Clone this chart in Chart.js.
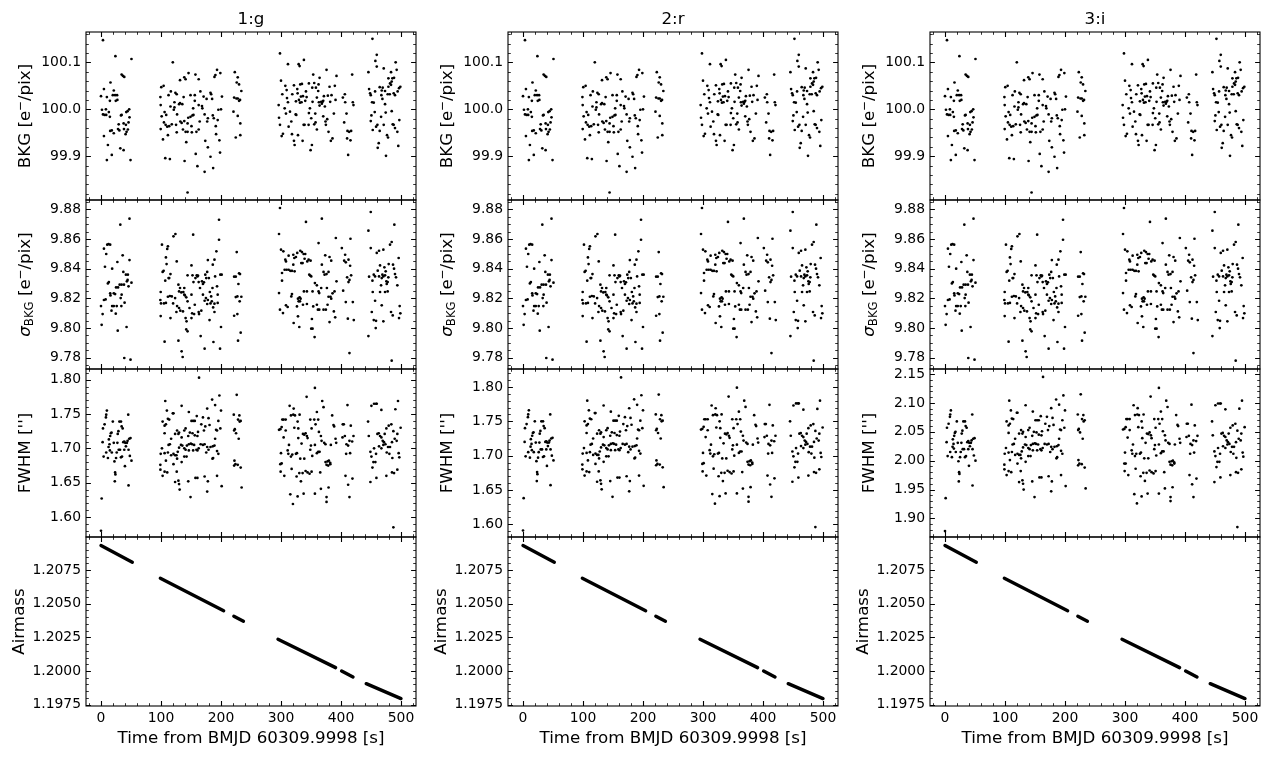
<!DOCTYPE html>
<html>
<head>
<meta charset="utf-8">
<script src="https://cdn.jsdelivr.net/npm/chart.js@4.4.0/dist/chart.umd.min.js"></script>
<style>
  html, body { margin: 0; padding: 0; background: #fff; }
  #fig { position: relative; width: 1270px; height: 758px; overflow: hidden; background: #fff; }
  #fig canvas { position: absolute; }
</style>
</head>
<body>
<div id="fig"></div>
<script>
// ---- data ----
const bandTitles = ['1:g', '2:r', '3:i'];

const xTicks = ['0', '100', '200', '300', '400', '500'];
const bkgTicks = ['99.9', '100.0', '100.1'];
const sigTicks = ['9.78', '9.80', '9.82', '9.84', '9.86', '9.88'];
const fwhmGTicks = ['1.60', '1.65', '1.70', '1.75', '1.80'];
const fwhmRTicks = ['1.60', '1.65', '1.70', '1.75', '1.80'];
const fwhmITicks = ['1.90', '1.95', '2.00', '2.05', '2.10', '2.15'];
const airTicks = ['1.1975', '1.2000', '1.2025', '1.2050', '1.2075'];

// background level [time s, e-/pix] (same in all bands)
const bkgPts = [
  [3.3,100.147],[24.0,100.113],[50.8,100.107],[34.4,100.074],[38.8,100.069],[36.6,100.071],[15.8,100.057],[4.9,100.043],[21.3,100.040],[0,100.028],
  [9.8,100.026],[19.7,100.030],[23.5,100.030],[26.8,100.030],[14.8,100.018],[24.6,100.018],[27.3,100.020],[1.6,99.999],[8.2,100.000],[3.3,99.989],
  [6.0,99.988],[8.7,99.988],[13.1,99.994],[14.8,99.984],[33.3,99.987],[34.4,99.988],[47.0,100.000],[44.3,99.996],[42.1,99.994],[47.5,99.983],
  [29.5,99.968],[37.7,99.970],[45.9,99.972],[41.5,99.967],[15.3,99.954],[18.0,99.955],[21.3,99.949],[28.4,99.958],[30.6,99.955],[38.3,99.958],
  [44.8,99.957],[42.6,99.952],[4.9,99.943],[41.0,99.947],[11.5,99.924],[32.2,99.917],[37.7,99.913],[18.0,99.903],[9.8,99.892],[49.2,99.892],
  [119.7,100.100],[100.5,100.047],[104.4,100.050],[131.7,100.062],[138.8,100.068],[141.0,100.064],[145.9,100.077],[157.4,100.074],[162.8,100.064],[189.1,100.069],
  [190.7,100.073],[193.4,100.084],[198.9,100.077],[99.0,100.026],[112.6,100.030],[116.4,100.038],[124.0,100.035],[126.2,100.032],[137.7,100.026],[149.2,100.030],
  [156.3,100.030],[165.6,100.038],[171.0,100.027],[176.0,100.022],[182.5,100.035],[183.6,100.032],[185.2,100.022],[201.6,100.027],[99.5,100.009],[106.0,99.994],
  [108.7,99.988],[115.8,100.006],[122.4,100.015],[130.1,100.011],[122.4,100.004],[121.3,99.999],[131.7,100.013],[135.5,100.011],[126.8,99.989],[145.4,99.982],
  [149.2,99.984],[152.5,99.987],[154.1,99.988],[156.3,100.018],[153.6,100.002],[162.8,100.009],[168.3,100.007],[168.9,100.002],[164.5,99.974],[172.7,99.989],
  [178.1,99.981],[186.3,99.987],[188.0,99.981],[195.6,99.999],[200.0,100.000],[101.1,99.985],[104.9,99.972],[107.7,99.967],[113.7,99.964],[110.4,99.963],
  [118.0,99.968],[125.1,99.967],[132.2,99.974],[134.4,99.971],[138.8,99.975],[144.3,99.970],[150.8,99.964],[126.2,99.951],[99.5,99.958],[103.3,99.936],
  [111.5,99.945],[136.6,99.957],[141.0,99.952],[144.3,99.952],[151.4,99.951],[159.0,99.952],[162.8,99.957],[177.0,99.974],[191.3,99.964],[194.5,99.977],
  [191.8,99.947],[197.3,99.934],[173.8,99.933],[142.1,99.930],[157.9,99.905],[178.1,99.919],[182.5,99.899],[160.7,99.879],[172.7,99.867],[186.9,99.875],
  [198.4,99.908],[107.1,99.896],[114.8,99.894],[139.3,99.890],[144.3,99.823],
  [223.0,100.079],[227.9,100.068],[226.2,100.057],[233.9,100.039],[230.1,100.053],[221.9,100.025],[225.7,100.023],[227.9,100.023],[230.1,100.018],[231.7,100.020],
  [220.8,99.995],[227.9,99.986],[232.2,99.970],[224.6,99.940],[232.2,99.945],
  [298.3,100.119],[311.6,100.096],[329.4,100.096],[331.0,100.092],[338.2,100.105],[296.1,100.009],[296.7,99.982],[298.3,99.967],[300.0,100.061],[301.1,99.943],
  [303.3,99.948],[302.2,100.032],[306.1,100.002],[307.2,100.050],[309.4,100.041],[310.0,100.024],[308.3,99.991],[311.6,100.015],[312.7,99.963],[315.0,99.995],
  [317.2,99.974],[318.3,99.947],[318.8,100.032],[321.6,100.051],[321.6,99.933],[322.7,99.924],[324.4,99.989],[324.9,100.017],[325.5,99.988],[327.1,100.043],
  [328.3,99.945],[327.7,100.034],[329.9,100.020],[331.6,100.014],[332.1,100.053],[333.2,100.027],[334.3,100.015],[334.9,100.054],[336.0,99.933],[336.6,100.028],
  [337.7,99.967],[339.3,99.967],[340.4,100.018],[341.6,100.038],[342.7,100.026],[346.0,99.967],[346.5,99.992],[346.5,100.055],[348.2,100.002],[349.3,99.913],
  [350.4,99.981],[351.5,99.924],[352.1,100.046],[352.6,100.016],[353.7,100.074],[355.4,100.056],[355.4,99.968],[357.1,99.991],[357.6,99.972],[358.2,100.046],
  [359.8,100.025],[359.8,99.957],[362.0,100.039],[362.6,100.053],[363.2,100.015],[364.3,100.008],[364.3,100.067],[367.0,100.016],[368.1,100.012],[369.3,100.016],
  [370.4,100.018],[370.4,99.985],[371.5,100.028],[373.1,100.006],[374.2,99.974],[374.8,99.967],[375.9,100.084],[377.0,99.979],[378.1,100.029],[379.2,99.952],
  [380.9,100.048],[382.0,100.016],[383.1,99.933],[384.2,100.030],[385.8,99.938],[388.1,99.991],[389.7,100.050],[390.9,100.020],[392.5,100.071],
  [403.1,100.025],[406.4,100.032],[407.0,100.015],[409.2,99.991],[410.8,99.954],[411.9,99.903],[413.6,99.952],[415.8,99.934],[416.9,99.954],[418.6,100.074],
  [419.7,100.015],[420.8,100.009],[410.2,99.938],[405.3,99.972],
  [452.4,100.150],[459.6,100.116],[457.3,100.103],[459.6,100.091],[445.7,100.079],[471.2,100.087],[491.1,100.100],[492.8,100.084],[483.4,100.079],[485.6,100.066],
  [488.4,100.067],[446.8,100.043],[448.5,100.034],[449.6,100.030],[451.8,100.015],[454.6,100.014],[456.2,99.994],[450.7,99.987],[449.6,99.975],[452.9,99.956],
  [460.7,99.967],[456.8,100.038],[464.5,100.047],[467.9,100.040],[469.5,100.046],[473.4,100.039],[467.3,100.030],[469.0,100.022],[473.4,100.011],[474.5,99.993],
  [477.8,100.032],[479.0,100.066],[481.2,100.032],[483.4,100.052],[484.5,100.059],[487.8,100.034],[490.0,100.030],[494.4,100.038],[498.9,100.048],[496.7,100.045],
  [479.0,100.048],[481.7,100.055],[484.5,99.996],[487.8,99.967],[490.0,99.960],[493.9,99.952],[497.2,99.977],[486.2,99.968],[476.7,99.945],[478.4,99.940],
  [471.2,99.967],[464.5,99.954],[462.9,99.928],[461.2,99.918],[475.0,99.901],[495.5,99.922],[466.8,99.984],[458.5,99.963]
];

// background rms [time s, e-/pix] (same in all bands)
const sigPts = [
  [47.5,9.8737],[32.2,9.8697],[4.9,9.8535],[10.4,9.8562],[12.6,9.8566],[15.3,9.8562],[8.7,9.8499],[36.1,9.8490],[27.3,9.8445],[47.5,9.8458],
  [6.6,9.8413],[18.6,9.8400],[37.2,9.8378],[41.5,9.8360],[44.8,9.8360],[13.1,9.8310],[11.5,9.8301],[44.3,9.8324],[50.8,9.8306],[31.1,9.8292],
  [34.4,9.8292],[28.4,9.8274],[25.1,9.8274],[38.3,9.8292],[43.2,9.8315],[45.9,9.8281],[15.3,9.8234],[21.3,9.8234],[23.5,9.8229],[15.8,9.8220],
  [34.4,9.8225],[7.7,9.8193],[4.9,9.8189],[32.8,9.8202],[39.3,9.8171],[0.0,9.8148],[18.6,9.8148],[21.3,9.8148],[26.2,9.8148],[33.9,9.8148],
  [17.5,9.8117],[2.7,9.8094],[24.6,9.8097],[1.1,9.8022],[42.6,9.8007],[27.9,9.7982],[38.8,9.7798],[49.2,9.7787],
  [101.6,9.8562],[104.4,9.8386],[102.7,9.8378],[107.1,9.8319],[108.2,9.8476],[109.3,9.8431],[112.6,9.8337],[113.7,9.8337],[115.8,9.8364],[110.4,9.8533],
  [111.5,9.8551],[120.8,9.8618],[124.0,9.8634],[126.2,9.8449],[129.0,9.8292],[131.7,9.8270],[130.1,9.8247],[133.9,9.8240],[137.2,9.8243],[138.8,9.8270],
  [139.9,9.8220],[142.1,9.8207],[144.3,9.8355],[150.8,9.8422],[152.5,9.8355],[154.1,9.8310],[157.4,9.8337],[159.6,9.8355],[160.7,9.8348],[161.7,9.8353],
  [162.8,9.8310],[153.6,9.8629],[165.0,9.8270],[168.3,9.8315],[169.9,9.8297],[171.6,9.8308],[173.8,9.8360],[177.0,9.8378],[178.1,9.8458],[175.4,9.8337],
  [179.8,9.8337],[183.6,9.8213],[185.8,9.8270],[186.3,9.8427],[189.1,9.8461],[190.2,9.8348],[192.3,9.8517],[193.4,9.8281],[194.5,9.8225],[196.7,9.8730],
  [196.7,9.8595],[198.9,9.8360],[201.1,9.8360],[99.5,9.8243],[98.9,9.8189],[100.0,9.8166],[104.9,9.8166],[108.2,9.8169],[111.5,9.8211],[114.8,9.8216],
  [118.0,9.8213],[120.2,9.8166],[123.5,9.8202],[126.8,9.8148],[130.1,9.8135],[132.2,9.8117],[136.6,9.8112],[138.8,9.8225],[141.0,9.8067],[142.6,9.8045],
  [144.3,9.8180],[147.5,9.8135],[150.8,9.8225],[151.9,9.8099],[156.3,9.8157],[162.8,9.8108],[163.4,9.8094],[167.2,9.8117],[169.9,9.8225],[172.7,9.8184],
  [174.9,9.8202],[177.0,9.8162],[178.1,9.8189],[181.4,9.8243],[182.5,9.8166],[184.7,9.8180],[186.9,9.8139],[189.1,9.8164],[194.5,9.8169],[99.5,9.8081],
  [115.8,9.8067],[125.7,9.8108],[142.1,9.7991],[144.3,9.7978],[155.2,9.8094],[166.1,9.7946],[180.9,9.8054],[200.0,9.8007],[106.0,9.7908],[129.0,9.7915],
  [134.4,9.7843],[136.1,9.7805],[172.7,9.7861],[187.4,9.7906],[198.4,9.7861],[189.1,9.8108],[150.8,9.8067],
  [226.2,9.8512],[221.9,9.8346],[224.6,9.8346],[230.1,9.8369],[231.7,9.8364],[229.0,9.8297],[227.3,9.8213],[224.6,9.8209],[233.9,9.8211],[231.1,9.8180],
  [221.9,9.8083],[227.3,9.8094],[232.8,9.7969],[228.4,9.7915],
  [298.3,9.8809],[296.7,9.8634],[300.0,9.8528],[303.9,9.8517],[307.2,9.8461],[308.3,9.8449],[312.7,9.8488],[320.5,9.8494],[322.2,9.8472],[324.9,9.8479],
  [327.1,9.8506],[332.1,9.8521],[334.9,9.8512],[337.7,9.8499],[340.4,9.8499],[333.8,9.8438],[336.0,9.8438],[339.3,9.8467],[343.8,9.8449],[346.0,9.8461],
  [349.3,9.8454],[341.6,9.8715],[368.1,9.8737],[362.6,9.8573],[373.7,9.8490],[380.9,9.8479],[391.4,9.8607],[383.7,9.8454],[320.5,9.8427],[301.7,9.8371],
  [306.1,9.8393],[309.4,9.8393],[312.7,9.8393],[315.5,9.8386],[318.3,9.8386],[322.7,9.8382],[301.7,9.8319],[317.2,9.8213],[318.3,9.8229],[331.0,9.8207],
  [332.7,9.8198],[338.2,9.8247],[343.2,9.8247],[347.1,9.8360],[348.8,9.8353],[350.4,9.8348],[356.5,9.8303],[359.8,9.8288],[362.6,9.8247],[363.7,9.8236],
  [367.0,9.8270],[370.9,9.8378],[372.6,9.8360],[375.9,9.8364],[379.2,9.8378],[376.5,9.8270],[379.2,9.8211],[382.5,9.8211],[385.9,9.8234],[389.2,9.8247],
  [392.5,9.8315],[296.7,9.8236],[298.3,9.8124],[303.3,9.8101],[308.3,9.8153],[311.1,9.8142],[326.6,9.8146],[328.3,9.8198],[329.4,9.8180],[331.6,9.8180],
  [336.6,9.8157],[343.2,9.8162],[352.6,9.8247],[353.7,9.8146],[359.8,9.8157],[361.5,9.8124],[370.9,9.8124],[374.8,9.8124],[377.6,9.8157],[383.7,9.8198],
  [388.1,9.8112],[390.3,9.8072],[380.9,9.8040],[321.1,9.8034],[330.5,9.8007],[350.4,9.7996],[352.6,9.7996],[356.0,9.7939],[351.5,9.8061],[328.3,9.8079],
  [363.7,9.8124],[368.1,9.8427],
  [401.4,9.8539],[406.9,9.8494],[405.3,9.8454],[408.0,9.8443],[412.5,9.8461],[415.2,9.8420],[416.9,9.8355],[410.2,9.8342],[412.5,9.8310],[414.1,9.8324],
  [403.6,9.8252],[408.0,9.8175],[419.7,9.8175],[411.4,9.8063],[421.3,9.8054],[414.1,9.7831],[415.8,9.8602],
  [449.6,9.8782],[445.7,9.8656],[488.9,9.8697],[449.6,9.8539],[459.6,9.8506],[463.4,9.8521],[470.6,9.8528],[481.7,9.8562],[484.5,9.8580],[496.1,9.8472],
  [465.1,9.8422],[461.2,9.8387],[454.6,9.8360],[452.4,9.8319],[456.8,9.8348],[463.4,9.8348],[467.9,9.8337],[469.0,9.8360],[470.6,9.8348],[473.4,9.8355],
  [475.6,9.8315],[477.8,9.8310],[479.5,9.8431],[486.7,9.8427],[488.4,9.8400],[490.0,9.8364],[491.7,9.8342],[493.9,9.8288],[478.9,9.8342],[474.5,9.8382],
  [476.2,9.8297],[477.8,9.8247],[473.4,9.8243],[465.1,9.8243],[452.9,9.8243],[456.8,9.8184],[451.3,9.8108],[454.6,9.8054],[458.4,9.8049],[457.9,9.8000],
  [467.9,9.8153],[470.6,9.8045],[483.4,9.8108],[486.2,9.8085],[497.8,9.8148],[498.9,9.8099],[496.7,9.8067],[445.7,9.7946],[484.5,9.7780],[466.8,9.8288],
  [472.3,9.8409],[446.8,9.8346]
];

// FWHM [time s, arcsec], g band
const fwhmG = [
  [0.0,1.580],[1.1,1.627],[2.7,1.709],[3.3,1.729],[4.4,1.688],[6.0,1.735],[8.2,1.745],[8.7,1.749],[9.8,1.755],[8.7,1.694],
  [11.5,1.686],[12.6,1.702],[14.2,1.706],[16.4,1.722],[17.5,1.723],[18.0,1.694],[15.3,1.718],[19.7,1.739],[21.3,1.708],[22.4,1.681],
  [23.5,1.665],[24.0,1.662],[23.0,1.652],[25.1,1.686],[27.3,1.708],[27.9,1.721],[29.0,1.725],[30.6,1.739],[29.5,1.698],[31.7,1.698],
  [33.3,1.739],[33.3,1.687],[34.4,1.732],[36.1,1.729],[35.0,1.688],[37.2,1.709],[38.8,1.710],[39.9,1.674],[40.4,1.708],[41.5,1.703],
  [43.2,1.708],[44.3,1.711],[45.4,1.749],[45.9,1.698],[47.0,1.714],[48.1,1.689],[49.2,1.715],[50.8,1.682],[45.9,1.646],[38.8,1.698],
  [26.2,1.694],[13.1,1.713],[14.8,1.697],
  [107.1,1.769],[109.8,1.755],[111.5,1.743],[113.7,1.742],[102.7,1.739],[106.0,1.733],[119.7,1.751],[120.8,1.751],[134.4,1.762],[146.4,1.753],
  [156.3,1.740],[153.6,1.740],[150.8,1.740],[159.6,1.747],[167.2,1.735],[169.9,1.745],[177.0,1.758],[185.2,1.771],[190.2,1.763],[197.3,1.777],
  [200.0,1.755],[195.6,1.740],[198.9,1.729],[191.8,1.727],[193.4,1.726],[190.2,1.714],[179.2,1.744],[180.9,1.734],[173.8,1.732],[171.6,1.726],
  [161.7,1.724],[160.7,1.718],[156.3,1.719],[152.5,1.722],[148.1,1.723],[145.4,1.718],[141.0,1.729],[138.8,1.726],[134.4,1.716],[130.1,1.723],
  [129.0,1.721],[126.8,1.726],[123.5,1.721],[116.9,1.714],[114.8,1.706],[112.6,1.705],[108.2,1.735],[106.0,1.722],[101.6,1.700],[99.5,1.692],
  [106.0,1.693],[111.5,1.694],[116.9,1.690],[120.8,1.692],[123.5,1.690],[125.7,1.690],[127.9,1.695],[130.1,1.701],[133.3,1.705],[135.5,1.704],
  [138.8,1.700],[141.0,1.698],[143.2,1.704],[146.4,1.706],[149.7,1.707],[151.9,1.706],[155.2,1.705],[159.0,1.698],[160.7,1.697],[162.8,1.700],
  [166.1,1.706],[169.9,1.705],[172.7,1.706],[177.0,1.702],[179.2,1.698],[182.5,1.702],[186.3,1.703],[189.1,1.704],[193.4,1.696],[195.6,1.692],
  [185.8,1.685],[186.9,1.686],[175.4,1.694],[153.6,1.697],[146.4,1.697],[142.6,1.688],[138.8,1.688],[134.4,1.680],[126.8,1.685],[108.2,1.682],
  [102.7,1.660],[98.9,1.676],[99.0,1.669],[106.0,1.666],[110.4,1.665],[123.5,1.651],[126.2,1.666],[129.0,1.653],[130.1,1.648],[131.1,1.640],
  [145.4,1.652],[157.4,1.657],[160.7,1.657],[172.7,1.659],[178.1,1.652],[193.4,1.660],[201.1,1.645],[177.0,1.637],[149.2,1.629],[120.8,1.677],
  [163.4,1.803],
  [221.3,1.749],[226.2,1.778],[230.6,1.748],[228.4,1.742],[232.8,1.740],[231.1,1.739],[221.9,1.726],[223.0,1.728],[225.1,1.722],[229.5,1.714],
  [222.4,1.682],[224.0,1.677],[227.9,1.676],[232.8,1.672],[221.9,1.675],[234.4,1.643],
  [296.7,1.727],[298.9,1.728],[301.1,1.731],[302.2,1.742],[304.4,1.742],[307.8,1.742],[307.8,1.726],[304.4,1.716],[300.0,1.693],[298.9,1.677],
  [301.1,1.678],[299.4,1.666],[305.5,1.660],[314.4,1.762],[316.6,1.748],[321.1,1.758],[320.5,1.749],[323.3,1.748],[327.7,1.739],[331.0,1.749],
  [322.2,1.730],[328.8,1.729],[313.3,1.705],[311.1,1.697],[312.2,1.692],[316.6,1.688],[318.8,1.691],[324.9,1.692],[326.6,1.693],[332.1,1.685],
  [328.8,1.715],[334.3,1.707],[336.6,1.721],[338.8,1.720],[341.0,1.722],[343.2,1.718],[344.3,1.715],[336.0,1.664],[341.0,1.667],[344.3,1.665],
  [347.6,1.663],[351.0,1.666],[317.7,1.670],[326.0,1.659],[330.5,1.664],[333.2,1.652],[342.7,1.775],[348.8,1.742],[351.0,1.729],[349.9,1.704],
  [352.1,1.689],[355.4,1.742],[356.5,1.788],[357.6,1.735],[359.8,1.753],[362.0,1.742],[363.2,1.724],[366.5,1.718],[367.6,1.711],[368.7,1.769],
  [370.9,1.760],[372.0,1.708],[374.2,1.680],[375.9,1.676],[377.6,1.681],[378.7,1.675],[379.8,1.682],[382.0,1.679],[383.1,1.705],[385.3,1.748],
  [387.5,1.734],[388.6,1.732],[390.9,1.714],[392.0,1.708],[382.2,1.677],[374.2,1.706],[364.3,1.695],[359.8,1.693],[365.4,1.665],[362.0,1.695],
  [356.5,1.705],[338.8,1.685],[315.5,1.633],[319.9,1.619],[327.7,1.630],[337.7,1.634],[356.5,1.634],[366.5,1.641],[375.9,1.629],[375.9,1.622],
  [379.3,1.643],[348.8,1.698],
  [404.7,1.735],[402.5,1.716],[406.4,1.718],[410.8,1.763],[409.1,1.706],[411.9,1.704],[414.1,1.711],[416.3,1.733],[418.6,1.710],[420.8,1.718],
  [415.2,1.693],[408.6,1.692],[407.5,1.660],[411.9,1.647],[414.1,1.629],[419.1,1.656],[403.0,1.735],
  [445.1,1.739],[450.7,1.762],[455.1,1.765],[458.4,1.765],[459.6,1.765],[467.3,1.756],[490.6,1.757],[495.0,1.769],[483.9,1.735],[479.5,1.733],
  [475.6,1.729],[472.8,1.721],[460.7,1.721],[462.9,1.722],[465.1,1.718],[467.3,1.716],[469.5,1.711],[471.7,1.709],[474.0,1.706],[470.6,1.705],
  [463.4,1.703],[455.1,1.700],[449.0,1.695],[446.3,1.718],[478.4,1.702],[481.7,1.702],[485.0,1.709],[487.3,1.725],[489.5,1.714],[492.8,1.711],
  [493.9,1.721],[499.4,1.730],[496.1,1.693],[497.2,1.687],[485.6,1.686],[476.2,1.694],[450.7,1.688],[454.0,1.680],[457.3,1.680],[452.4,1.672],
  [459.0,1.657],[449.0,1.651],[475.6,1.660],[485.0,1.665],[488.4,1.664],[493.9,1.669],[487.3,1.585],[480.6,1.692],[467.3,1.700],[458.4,1.692]
];

// FWHM [time s, arcsec], r band
const fwhmR = [
  [0.0,1.591],[1.1,1.638],[2.7,1.720],[3.3,1.740],[4.4,1.699],[6.0,1.746],[8.2,1.756],[8.7,1.760],[9.8,1.766],[8.7,1.705],
  [11.5,1.697],[12.6,1.713],[14.2,1.717],[16.4,1.733],[17.5,1.734],[18.0,1.705],[15.3,1.729],[19.7,1.750],[21.3,1.719],[22.4,1.692],
  [23.5,1.676],[24.0,1.673],[23.0,1.663],[25.1,1.697],[27.3,1.719],[27.9,1.732],[29.0,1.736],[30.6,1.750],[29.5,1.709],[31.7,1.709],
  [33.3,1.750],[33.3,1.698],[34.4,1.743],[36.1,1.740],[35.0,1.699],[37.2,1.720],[38.8,1.721],[39.9,1.685],[40.4,1.719],[41.5,1.714],
  [43.2,1.719],[44.3,1.722],[45.4,1.760],[45.9,1.709],[47.0,1.725],[48.1,1.700],[49.2,1.726],[50.8,1.693],[45.9,1.657],[38.8,1.709],
  [26.2,1.705],[13.1,1.724],[14.8,1.708],
  [107.1,1.780],[109.8,1.766],[111.5,1.754],[113.7,1.753],[102.7,1.750],[106.0,1.744],[119.7,1.762],[120.8,1.762],[134.4,1.773],[146.4,1.764],
  [156.3,1.751],[153.6,1.751],[150.8,1.751],[159.6,1.758],[167.2,1.746],[169.9,1.756],[177.0,1.769],[185.2,1.782],[190.2,1.774],[197.3,1.788],
  [200.0,1.766],[195.6,1.751],[198.9,1.740],[191.8,1.738],[193.4,1.737],[190.2,1.725],[179.2,1.755],[180.9,1.745],[173.8,1.743],[171.6,1.737],
  [161.7,1.735],[160.7,1.729],[156.3,1.730],[152.5,1.733],[148.1,1.734],[145.4,1.729],[141.0,1.740],[138.8,1.737],[134.4,1.727],[130.1,1.734],
  [129.0,1.732],[126.8,1.737],[123.5,1.732],[116.9,1.725],[114.8,1.717],[112.6,1.716],[108.2,1.746],[106.0,1.733],[101.6,1.711],[99.5,1.703],
  [106.0,1.704],[111.5,1.705],[116.9,1.701],[120.8,1.703],[123.5,1.701],[125.7,1.701],[127.9,1.706],[130.1,1.712],[133.3,1.716],[135.5,1.715],
  [138.8,1.711],[141.0,1.709],[143.2,1.715],[146.4,1.717],[149.7,1.718],[151.9,1.717],[155.2,1.716],[159.0,1.709],[160.7,1.708],[162.8,1.711],
  [166.1,1.717],[169.9,1.716],[172.7,1.717],[177.0,1.713],[179.2,1.709],[182.5,1.713],[186.3,1.714],[189.1,1.715],[193.4,1.707],[195.6,1.703],
  [185.8,1.696],[186.9,1.697],[175.4,1.705],[153.6,1.708],[146.4,1.708],[142.6,1.699],[138.8,1.699],[134.4,1.691],[126.8,1.696],[108.2,1.693],
  [102.7,1.671],[98.9,1.687],[99.0,1.680],[106.0,1.677],[110.4,1.676],[123.5,1.662],[126.2,1.677],[129.0,1.664],[130.1,1.659],[131.1,1.651],
  [145.4,1.663],[157.4,1.668],[160.7,1.668],[172.7,1.670],[178.1,1.663],[193.4,1.671],[201.1,1.656],[177.0,1.648],[149.2,1.640],[120.8,1.688],
  [163.4,1.814],
  [221.3,1.760],[226.2,1.789],[230.6,1.759],[228.4,1.753],[232.8,1.751],[231.1,1.750],[221.9,1.737],[223.0,1.739],[225.1,1.733],[229.5,1.725],
  [222.4,1.693],[224.0,1.688],[227.9,1.687],[232.8,1.683],[221.9,1.686],[234.4,1.654],
  [296.7,1.738],[298.9,1.739],[301.1,1.742],[302.2,1.753],[304.4,1.753],[307.8,1.753],[307.8,1.737],[304.4,1.727],[300.0,1.704],[298.9,1.688],
  [301.1,1.689],[299.4,1.677],[305.5,1.671],[314.4,1.773],[316.6,1.759],[321.1,1.769],[320.5,1.760],[323.3,1.759],[327.7,1.750],[331.0,1.760],
  [322.2,1.741],[328.8,1.740],[313.3,1.716],[311.1,1.708],[312.2,1.703],[316.6,1.699],[318.8,1.702],[324.9,1.703],[326.6,1.704],[332.1,1.696],
  [328.8,1.726],[334.3,1.718],[336.6,1.732],[338.8,1.731],[341.0,1.733],[343.2,1.729],[344.3,1.726],[336.0,1.675],[341.0,1.678],[344.3,1.676],
  [347.6,1.674],[351.0,1.677],[317.7,1.681],[326.0,1.670],[330.5,1.675],[333.2,1.663],[342.7,1.786],[348.8,1.753],[351.0,1.740],[349.9,1.715],
  [352.1,1.700],[355.4,1.753],[356.5,1.799],[357.6,1.746],[359.8,1.764],[362.0,1.753],[363.2,1.735],[366.5,1.729],[367.6,1.722],[368.7,1.780],
  [370.9,1.771],[372.0,1.719],[374.2,1.691],[375.9,1.687],[377.6,1.692],[378.7,1.686],[379.8,1.693],[382.0,1.690],[383.1,1.716],[385.3,1.759],
  [387.5,1.745],[388.6,1.743],[390.9,1.725],[392.0,1.719],[382.2,1.688],[374.2,1.717],[364.3,1.706],[359.8,1.704],[365.4,1.676],[362.0,1.706],
  [356.5,1.716],[338.8,1.696],[315.5,1.644],[319.9,1.630],[327.7,1.641],[337.7,1.645],[356.5,1.645],[366.5,1.652],[375.9,1.640],[375.9,1.633],
  [379.3,1.654],[348.8,1.709],
  [404.7,1.746],[402.5,1.727],[406.4,1.729],[410.8,1.774],[409.1,1.717],[411.9,1.715],[414.1,1.722],[416.3,1.744],[418.6,1.721],[420.8,1.729],
  [415.2,1.704],[408.6,1.703],[407.5,1.671],[411.9,1.658],[414.1,1.640],[419.1,1.667],[403.0,1.746],
  [445.1,1.750],[450.7,1.773],[455.1,1.776],[458.4,1.776],[459.6,1.776],[467.3,1.767],[490.6,1.768],[495.0,1.780],[483.9,1.746],[479.5,1.744],
  [475.6,1.740],[472.8,1.732],[460.7,1.732],[462.9,1.733],[465.1,1.729],[467.3,1.727],[469.5,1.722],[471.7,1.720],[474.0,1.717],[470.6,1.716],
  [463.4,1.714],[455.1,1.711],[449.0,1.706],[446.3,1.729],[478.4,1.713],[481.7,1.713],[485.0,1.720],[487.3,1.736],[489.5,1.725],[492.8,1.722],
  [493.9,1.732],[499.4,1.741],[496.1,1.704],[497.2,1.698],[485.6,1.697],[476.2,1.705],[450.7,1.699],[454.0,1.691],[457.3,1.691],[452.4,1.683],
  [459.0,1.668],[449.0,1.662],[475.6,1.671],[485.0,1.676],[488.4,1.675],[493.9,1.680],[487.3,1.596],[480.6,1.703],[467.3,1.711],[458.4,1.703]
];

// FWHM [time s, arcsec], i band
const fwhmI = [
  [0.0,1.878],[1.1,1.935],[2.7,2.032],[3.3,2.057],[4.4,2.008],[6.0,2.064],[8.2,2.076],[8.7,2.080],[9.8,2.087],[8.7,2.015],
  [11.5,2.006],[12.6,2.024],[14.2,2.029],[16.4,2.048],[17.5,2.050],[18.0,2.015],[15.3,2.043],[19.7,2.068],[21.3,2.031],[22.4,1.999],
  [23.5,1.980],[24.0,1.977],[23.0,1.964],[25.1,2.006],[27.3,2.031],[27.9,2.047],[29.0,2.052],[30.6,2.068],[29.5,2.020],[31.7,2.020],
  [33.3,2.068],[33.3,2.006],[34.4,2.060],[36.1,2.057],[35.0,2.008],[37.2,2.032],[38.8,2.034],[39.9,1.991],[40.4,2.031],[41.5,2.025],
  [43.2,2.031],[44.3,2.035],[45.4,2.080],[45.9,2.020],[47.0,2.038],[48.1,2.009],[49.2,2.039],[50.8,2.000],[45.9,1.957],[38.8,2.020],
  [26.2,2.015],[13.1,2.037],[14.8,2.021],
  [107.1,2.104],[109.8,2.087],[111.5,2.073],[113.7,2.072],[102.7,2.068],[106.0,2.061],[119.7,2.083],[120.8,2.083],[134.4,2.096],[146.4,2.085],
  [156.3,2.070],[153.6,2.070],[150.8,2.070],[159.6,2.077],[167.2,2.064],[169.9,2.076],[177.0,2.091],[185.2,2.106],[190.2,2.097],[197.3,2.113],
  [200.0,2.087],[195.6,2.070],[198.9,2.057],[191.8,2.054],[193.4,2.053],[190.2,2.038],[179.2,2.074],[180.9,2.062],[173.8,2.060],[171.6,2.053],
  [161.7,2.051],[160.7,2.044],[156.3,2.045],[152.5,2.049],[148.1,2.050],[145.4,2.043],[141.0,2.057],[138.8,2.053],[134.4,2.041],[130.1,2.050],
  [129.0,2.047],[126.8,2.053],[123.5,2.047],[116.9,2.038],[114.8,2.029],[112.6,2.028],[108.2,2.064],[106.0,2.048],[101.6,2.022],[99.5,2.012],
  [106.0,2.014],[111.5,2.015],[116.9,2.010],[120.8,2.012],[123.5,2.010],[125.7,2.010],[127.9,2.016],[130.1,2.023],[133.3,2.028],[135.5,2.027],
  [138.8,2.022],[141.0,2.020],[143.2,2.027],[146.4,2.029],[149.7,2.030],[151.9,2.029],[155.2,2.028],[159.0,2.020],[160.7,2.018],[162.8,2.022],
  [166.1,2.029],[169.9,2.028],[172.7,2.029],[177.0,2.024],[179.2,2.020],[182.5,2.024],[186.3,2.025],[189.1,2.027],[193.4,2.017],[195.6,2.012],
  [185.8,2.004],[186.9,2.006],[175.4,2.015],[153.6,2.018],[146.4,2.018],[142.6,2.008],[138.8,2.008],[134.4,1.998],[126.8,2.004],[108.2,2.001],
  [102.7,1.975],[98.9,1.993],[99.0,1.985],[106.0,1.982],[110.4,1.980],[123.5,1.963],[126.2,1.982],[129.0,1.966],[130.1,1.960],[131.1,1.950],
  [145.4,1.964],[157.4,1.971],[160.7,1.971],[172.7,1.973],[178.1,1.964],[193.4,1.975],[201.1,1.956],[177.0,1.947],[149.2,1.937],[120.8,1.995],
  [163.4,2.145],
  [221.3,2.080],[226.2,2.115],[230.6,2.079],[228.4,2.072],[232.8,2.070],[231.1,2.068],[221.9,2.053],[223.0,2.055],[225.1,2.049],[229.5,2.038],
  [222.4,2.001],[224.0,1.995],[227.9,1.994],[232.8,1.988],[221.9,1.992],[234.4,1.952],
  [296.7,2.054],[298.9,2.055],[301.1,2.058],[302.2,2.072],[304.4,2.072],[307.8,2.072],[307.8,2.053],[304.4,2.040],[300.0,2.014],[298.9,1.995],
  [301.1,1.995],[299.4,1.982],[305.5,1.975],[314.4,2.096],[316.6,2.079],[321.1,2.091],[320.5,2.080],[323.3,2.079],[327.7,2.068],[331.0,2.080],
  [322.2,2.058],[328.8,2.057],[313.3,2.028],[311.1,2.018],[312.2,2.012],[316.6,2.008],[318.8,2.012],[324.9,2.012],[326.6,2.014],[332.1,2.004],
  [328.8,2.039],[334.3,2.031],[336.6,2.047],[338.8,2.046],[341.0,2.049],[343.2,2.044],[344.3,2.039],[336.0,1.979],[341.0,1.983],[344.3,1.980],
  [347.6,1.978],[351.0,1.982],[317.7,1.986],[326.0,1.973],[330.5,1.979],[333.2,1.965],[342.7,2.111],[348.8,2.072],[351.0,2.057],[349.9,2.027],
  [352.1,2.009],[355.4,2.072],[356.5,2.126],[357.6,2.064],[359.8,2.085],[362.0,2.072],[363.2,2.051],[366.5,2.044],[367.6,2.035],[368.7,2.104],
  [370.9,2.093],[372.0,2.031],[374.2,1.998],[375.9,1.993],[377.6,1.999],[378.7,1.992],[379.8,2.000],[382.0,1.997],[383.1,2.028],[385.3,2.079],
  [387.5,2.062],[388.6,2.060],[390.9,2.038],[392.0,2.031],[382.2,1.995],[374.2,2.029],[364.3,2.016],[359.8,2.013],[365.4,1.980],[362.0,2.016],
  [356.5,2.028],[338.8,2.004],[315.5,1.942],[319.9,1.926],[327.7,1.938],[337.7,1.943],[356.5,1.943],[366.5,1.952],[375.9,1.937],[375.9,1.930],
  [379.3,1.954],[348.8,2.020],
  [404.7,2.064],[402.5,2.041],[406.4,2.043],[410.8,2.097],[409.1,2.029],[411.9,2.027],[414.1,2.035],[416.3,2.061],[418.6,2.034],[420.8,2.043],
  [415.2,2.014],[408.6,2.012],[407.5,1.975],[411.9,1.959],[414.1,1.937],[419.1,1.969],[403.0,2.064],
  [445.1,2.068],[450.7,2.096],[455.1,2.099],[458.4,2.099],[459.6,2.099],[467.3,2.089],[490.6,2.090],[495.0,2.104],[483.9,2.064],[479.5,2.061],
  [475.6,2.057],[472.8,2.047],[460.7,2.047],[462.9,2.048],[465.1,2.043],[467.3,2.041],[469.5,2.035],[471.7,2.032],[474.0,2.029],[470.6,2.028],
  [463.4,2.025],[455.1,2.022],[449.0,2.016],[446.3,2.044],[478.4,2.024],[481.7,2.024],[485.0,2.032],[487.3,2.052],[489.5,2.038],[492.8,2.035],
  [493.9,2.047],[499.4,2.058],[496.1,2.014],[497.2,2.007],[485.6,2.005],[476.2,2.015],[450.7,2.008],[454.0,1.998],[457.3,1.998],[452.4,1.989],
  [459.0,1.971],[449.0,1.963],[475.6,1.975],[485.0,1.980],[488.4,1.979],[493.9,1.985],[487.3,1.885],[480.6,2.012],[467.3,2.022],[458.4,2.012]
];

// airmass: start/end of each continuous observing run
const airT = [0, 52.2, 98.9, 204.4, 221.4, 237.4, 295.0, 391.0, 401.0, 420.0, 442.0, 500.0];
const airV = [1.20931, 1.20807, 1.20688, 1.20448, 1.20406, 1.20369, 1.20235, 1.20025, 1.20000, 1.19955, 1.19906, 1.19795];

// ---- layout ----
Chart.defaults.font.family = "'DejaVu Sans', 'Liberation Sans', sans-serif";
Chart.defaults.color = '#000';

const FONT = "'DejaVu Sans', sans-serif";
const colLeft = [86, 508, 930];
const rowEdge = [32, 200, 369, 537, 706];
const AXW = 86, PW = 330;

const labBKG = [{t: 'BKG [e'}, {t: '\u2212', sup: true}, {t: '/pix]'}];
const labSig = [{t: '\u03c3', it: true}, {t: 'BKG', sub: true}, {t: ' [e'}, {t: '\u2212', sup: true}, {t: '/pix]'}];
const labFWHM = [{t: "FWHM ['']"}];
const labAir = [{t: 'Airmass'}];

function drawRich(ctx, segs, size) {
  let w = 0;
  const parts = segs.map(s => {
    const fs = (s.sub || s.sup) ? size * 0.7 : size;
    const font = (s.it ? 'italic ' : '') + fs + 'px ' + FONT;
    ctx.font = font;
    const m = ctx.measureText(s.t).width;
    w += m;
    return Object.assign({}, s, {font, m});
  });
  let x = -w / 2;
  parts.forEach(p => {
    ctx.font = p.font;
    const dy = p.sup ? -size * 0.36 : p.sub ? size * 0.2 : 0;
    ctx.fillText(p.t, x, dy);
    x += p.m;
  });
}

function tickValues(scale, step) {
  const out = [];
  const k0 = Math.ceil(scale.min / step - 1e-9), k1 = Math.floor(scale.max / step + 1e-9);
  for (let k = k0; k <= k1; k++) out.push(k * step);
  return out;
}

function makeDeco(cfg) {
  return {
    id: 'deco',
    afterDatasetsDraw(chart) {
      const {ctx, chartArea: a, scales: {x, y}} = chart;
      ctx.save();
      ctx.strokeStyle = '#000';
      const majX = x.ticks.map(t => t.value), majY = y.ticks.map(t => t.value);
      const near = (arr, v, eps) => arr.some(m => Math.abs(m - v) < eps);
      // minor ticks
      ctx.lineWidth = 0.8;
      ctx.beginPath();
      tickValues(x, 20).forEach(v => {
        if (near(majX, v, 1e-6)) return;
        const px = Math.round(x.getPixelForValue(v)) + 0.5;
        ctx.moveTo(px, a.bottom); ctx.lineTo(px, a.bottom - 2.8);
        ctx.moveTo(px, a.top); ctx.lineTo(px, a.top + 2.8);
      });
      tickValues(y, cfg.minor).forEach(v => {
        if (near(majY, v, cfg.minor / 10)) return;
        const py = Math.round(y.getPixelForValue(v)) + 0.5;
        ctx.moveTo(a.left, py); ctx.lineTo(a.left + 2.8, py);
        ctx.moveTo(a.right, py); ctx.lineTo(a.right - 2.8, py);
      });
      ctx.stroke();
      // major ticks
      ctx.lineWidth = 1.1;
      ctx.beginPath();
      majX.forEach(v => {
        const px = Math.round(x.getPixelForValue(v)) + 0.5;
        ctx.moveTo(px, a.bottom); ctx.lineTo(px, a.bottom - 4.9);
        ctx.moveTo(px, a.top); ctx.lineTo(px, a.top + 4.9);
      });
      majY.forEach(v => {
        const py = Math.round(y.getPixelForValue(v)) + 0.5;
        ctx.moveTo(a.left, py); ctx.lineTo(a.left + 4.9, py);
        ctx.moveTo(a.right, py); ctx.lineTo(a.right - 4.9, py);
      });
      ctx.stroke();
      // frame
      ctx.lineWidth = 1.1;
      ctx.strokeRect(a.left, a.top, a.right - a.left, a.bottom - a.top);
      // texts
      ctx.fillStyle = '#000';
      ctx.textBaseline = 'alphabetic';
      ctx.save();
      ctx.translate(a.left - cfg.labOff, (a.top + a.bottom) / 2);
      ctx.rotate(-Math.PI / 2);
      ctx.textAlign = 'left';
      drawRich(ctx, cfg.label, 16.7);
      ctx.restore();
      ctx.textAlign = 'center';
      ctx.font = '16.7px ' + FONT;
      if (cfg.title) ctx.fillText(cfg.title, (a.left + a.right) / 2, a.top - 8.5);
      if (cfg.bottom) ctx.fillText('Time from BMJD 60309.9998 [s]', (a.left + a.right) / 2, a.bottom + 37);
      ctx.restore();
    }
  };
}

function noOverflow(s) {
  s.paddingTop = 0; s.paddingBottom = 0; s.paddingLeft = 0; s.paddingRight = 0;
}

function panel(col, row, cfg) {
  const fig = document.getElementById('fig');
  const cv = document.createElement('canvas');
  const top = row === 0 ? 0 : rowEdge[row] - 4;
  const bottom = row === 3 ? 758 : rowEdge[row + 1] + 4;
  const w = AXW + PW + 6, h = bottom - top;
  cv.width = w; cv.height = h;
  cv.style.left = (colLeft[col] - AXW) + 'px';
  cv.style.top = top + 'px';
  cv.style.width = w + 'px'; cv.style.height = h + 'px';
  fig.appendChild(cv);
  const isBottom = row === 3;
  const padTop = rowEdge[row] - top;
  const padBottom = isBottom ? 0 : 4;

  let datasets;
  if (cfg.line) {
    datasets = [];
    for (let k = 0; k < airT.length; k += 2) {
      datasets.push({
        data: [{x: airT[k], y: airV[k]}, {x: airT[k + 1], y: airV[k + 1]}],
        showLine: true, pointRadius: 0, borderColor: '#000', borderWidth: 3.4,
        borderCapStyle: 'round'
      });
    }
  } else {
    datasets = [{
      data: cfg.pts.map(p => ({x: p[0], y: p[1]})),
      pointRadius: 1.35, pointBackgroundColor: '#000', pointBorderWidth: 0, showLine: false
    }];
  }

  const yLabels = cfg.ticks;
  new Chart(cv, {
    type: 'scatter',
    data: {datasets},
    options: {
      responsive: false, animation: false, devicePixelRatio: 1, events: [],
      layout: {padding: {left: 0, right: 6, top: padTop, bottom: padBottom}},
      plugins: {legend: {display: false}, tooltip: {enabled: false}},
      scales: {
        x: {
          type: 'linear', min: -25, max: 525,
          grid: {display: false, drawTicks: false}, border: {display: false},
          ticks: {display: isBottom, padding: 4, font: {size: 13.9}, maxRotation: 0, autoSkip: false,
                  callback: (v, i) => xTicks[i]},
          afterBuildTicks: s => { s.ticks = xTicks.map(t => ({value: +t})); },
          afterFit: s => { s.height = isBottom ? 52 : 0; noOverflow(s); }
        },
        y: {
          type: 'linear', min: cfg.min, max: cfg.max,
          grid: {display: false, drawTicks: false}, border: {display: false},
          ticks: {padding: 5, font: {size: 13.9}, autoSkip: false, callback: (v, i) => yLabels[i]},
          afterBuildTicks: s => { s.ticks = yLabels.map(t => ({value: +t})); },
          afterFit: s => { s.width = AXW; noOverflow(s); }
        }
      }
    },
    plugins: [makeDeco({
      minor: cfg.minor, label: cfg.label, labOff: cfg.labOff,
      title: row === 0 ? bandTitles[col] : null, bottom: isBottom
    })]
  });
}

const fwhmSets = [
  {pts: fwhmG, ticks: fwhmGTicks, min: 1.5709, max: 1.8156},
  {pts: fwhmR, ticks: fwhmRTicks, min: 1.5815, max: 1.8262},
  {pts: fwhmI, ticks: fwhmITicks, min: 1.8678, max: 2.1588}
];

for (let c = 0; c < 3; c++) {
  panel(c, 0, {pts: bkgPts, ticks: bkgTicks, min: 99.807, max: 100.1645, minor: 0.02, label: labBKG, labOff: 56});
  panel(c, 1, {pts: sigPts, ticks: sigTicks, min: 9.7724, max: 9.8863, minor: 0.005, label: labSig, labOff: 56});
  panel(c, 2, Object.assign({minor: 0.01, label: labFWHM, labOff: 56}, fwhmSets[c]));
  panel(c, 3, {line: true, ticks: airTicks, min: 1.1974, max: 1.20995, minor: 0.0005, label: labAir, labOff: 62});
}
</script>
</body>
</html>
